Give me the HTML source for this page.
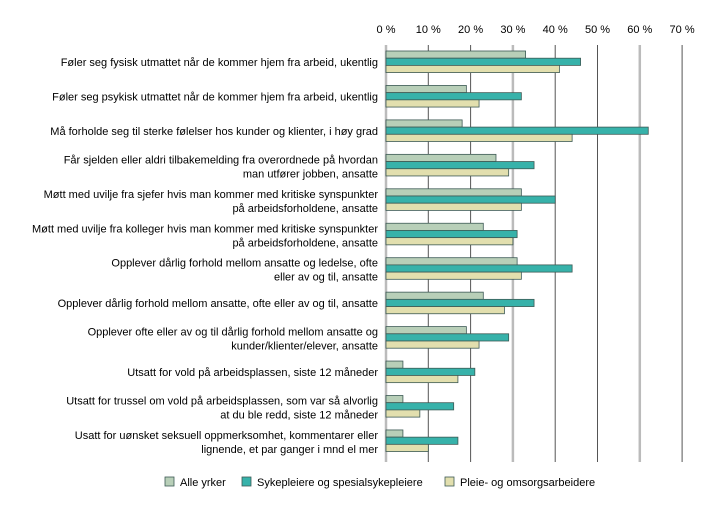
<!DOCTYPE html>
<html><head><meta charset="utf-8"><style>
body{margin:0;background:#fff;font-family:"Liberation Sans",sans-serif;}
svg text{font-family:"Liberation Sans",sans-serif;font-size:11px;fill:#000;}
</style></head><body>
<svg id="c" width="719" height="510"></svg>
<script>
const categories=[
["Føler seg fysisk utmattet når de kommer hjem fra arbeid, ukentlig"],
["Føler seg psykisk utmattet når de kommer hjem fra arbeid, ukentlig"],
["Må forholde seg til sterke følelser hos kunder og klienter, i høy grad"],
["Får sjelden eller aldri tilbakemelding fra overordnede på hvordan","man utfører jobben, ansatte"],
["Møtt med uvilje fra sjefer hvis man kommer med kritiske synspunkter","på arbeidsforholdene, ansatte"],
["Møtt med uvilje fra kolleger hvis man kommer med kritiske synspunkter","på arbeidsforholdene, ansatte"],
["Opplever dårlig forhold mellom ansatte og ledelse, ofte","eller av og til, ansatte"],
["Opplever dårlig forhold mellom ansatte, ofte eller av og til, ansatte"],
["Opplever ofte eller av og til dårlig forhold mellom ansatte og","kunder/klienter/elever, ansatte"],
["Utsatt for vold på arbeidsplassen, siste 12 måneder"],
["Utsatt for trussel om vold på arbeidsplassen, som var så alvorlig","at du ble redd, siste 12 måneder"],
["Usatt for uønsket seksuell oppmerksomhet, kommentarer eller","lignende, et par ganger i mnd el mer"]];
const alleYrker=[33,19,18,26,32,23,31,23,19,4,4,4];
const sykepleiere=[46,32,62,35,40,31,44,35,29,21,16,17];
const pleie=[41,22,44,29,32,30,32,28,22,17,8,10];
const ticks=[0,10,20,30,40,50,60,70];
const seriesNames=["Alle yrker","Sykepleiere og spesialsykepleiere","Pleie- og omsorgsarbeidere"];
const colors=["#b8cfb8","#37b2aa","#e2dfae"];
const NS="http://www.w3.org/2000/svg",svg=document.getElementById('c');
const x=v=>386+v*4.23, rowY=i=>51+i*34.45;
function el(t,a,p){const e=document.createElementNS(NS,t);for(const k in a)e.setAttribute(k,a[k]);(p||svg).appendChild(e);return e;}
ticks.forEach((t,i)=>{
 const g=el('line',{x1:x(t),x2:x(t),y1:45,y2:462,stroke:(t%30===0)?'#bbb':'#555','stroke-width':(t%30===0)?2.5:1});
 
 
 const l=el('text',{x:x(t),y:33,'text-anchor':'middle'});l.textContent=t+' %';
 
 
});
const series=[alleYrker,sykepleiere,pleie];
categories.forEach((c,i)=>{
 const y0=rowY(i);
 series.forEach((s,j)=>{
  const r=el('rect',{x:x(0),y:y0+j*7.2,width:x(s[i])-x(0),height:7.2,fill:colors[j],stroke:'#3d5a55','stroke-width':0.8});
  
  
 });
 const t=el('text',{x:378,'text-anchor':'end'});
 
 
 const yc=y0+11;
 if(c.length===1){t.setAttribute('y',yc+4);t.textContent=c[0];}
 else c.forEach((ln,k)=>{const ts=el('tspan',{x:378,y:yc-2+k*14},t);ts.textContent=ln;});
});
const lx=[165,242,445];
seriesNames.forEach((n,j)=>{
 const g=el('g',{});
 
 
 el('rect',{x:lx[j],y:477,width:9,height:9,fill:colors[j],stroke:'#3d5a55','stroke-width':0.8},g);
 const t=el('text',{x:lx[j]+15,y:486},g);t.textContent=n;
});
</script>
</body></html>
